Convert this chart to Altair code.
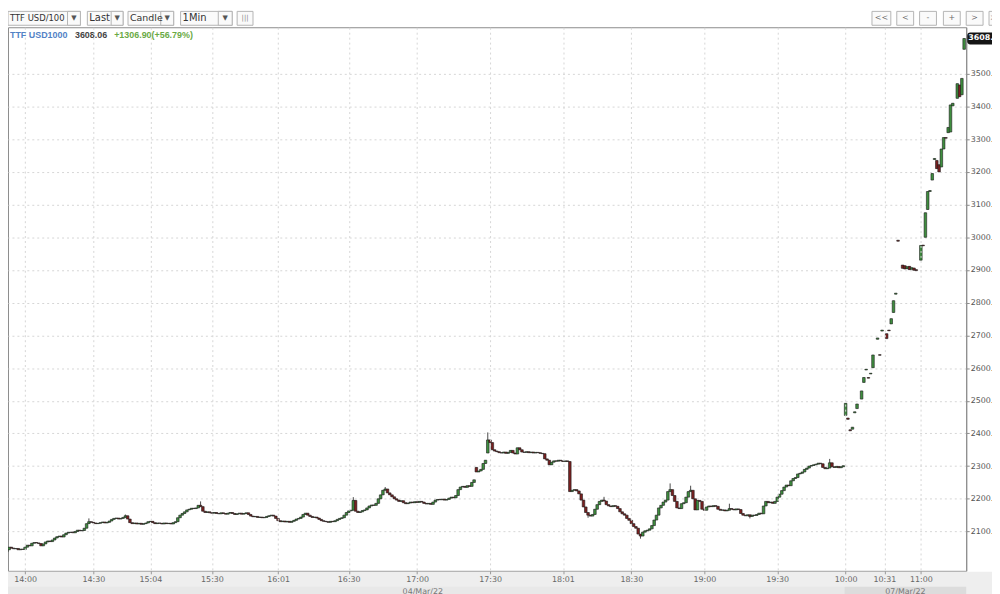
import altair as alt
import pandas as pd

# ---------------- data ----------------
# 04/Mar/22 session, 1-minute closes (candle slot 0..369); open = previous close
first_open = 2030
closes_mar4 = [
    2032, 2038, 2044, 2052, 2049, 2047, 2048, 2044, 2046, 2045,
    2052, 2058, 2056, 2064, 2066, 2065, 2063, 2056, 2062, 2068,
    2071, 2069, 2074, 2080, 2084, 2086, 2083, 2090, 2095, 2097,
    2098, 2096, 2100, 2104, 2102, 2103, 2110, 2124, 2130, 2128,
    2126, 2124, 2125, 2127, 2129, 2126, 2128, 2132, 2137, 2140,
    2141, 2138, 2140, 2143, 2148, 2138, 2127, 2124, 2126, 2123,
    2125, 2122, 2124, 2126, 2130, 2131, 2127, 2124, 2126, 2125,
    2123, 2126, 2124, 2125, 2123, 2127, 2130, 2142, 2150, 2155,
    2160, 2166, 2168, 2171, 2170, 2172, 2180, 2176, 2162, 2158,
    2160, 2157, 2156, 2158, 2155, 2154, 2157, 2155, 2153, 2156,
    2158, 2155, 2152, 2154, 2156, 2153, 2155, 2157, 2152, 2147,
    2145, 2146, 2143, 2144, 2142, 2143, 2146, 2148, 2150, 2147,
    2140, 2133, 2130, 2132, 2129, 2131, 2128, 2131, 2134, 2138,
    2140, 2144, 2152, 2156, 2150, 2146, 2143, 2144, 2141, 2137,
    2133, 2131, 2130, 2128, 2131, 2130, 2133, 2137, 2140, 2142,
    2150, 2158, 2163, 2165, 2195, 2162, 2158, 2160, 2164, 2166,
    2172, 2178, 2181, 2180, 2186, 2200, 2212, 2226, 2230, 2218,
    2212, 2206, 2200, 2196, 2192, 2194, 2188, 2185, 2187, 2190,
    2188, 2191, 2189, 2192, 2190, 2186, 2184, 2186, 2183, 2190,
    2196, 2198, 2197, 2199, 2196, 2198, 2202, 2205, 2203, 2210,
    2228, 2236, 2238, 2235, 2240, 2238, 2250, 2258, 2282, 2285,
    2290, 2308, 2318, 2380, 2372, 2350, 2346, 2344, 2341, 2340,
    2343, 2339, 2342, 2348, 2340, 2337, 2356, 2350, 2343, 2342,
    2344, 2341, 2343, 2340, 2342, 2341, 2339, 2338, 2322, 2318,
    2304, 2312, 2316, 2315, 2318, 2316, 2314, 2316, 2314, 2222,
    2226, 2228, 2224, 2215, 2196, 2175, 2158, 2150, 2147, 2152,
    2168, 2182, 2192, 2196, 2193, 2182, 2178, 2176, 2179, 2177,
    2170, 2160, 2154, 2150, 2140, 2134, 2124, 2115, 2110, 2092,
    2086, 2098, 2102, 2104, 2108, 2118, 2135, 2150, 2172, 2180,
    2190, 2196, 2222, 2228, 2210, 2192, 2172, 2170, 2185, 2188,
    2205, 2222, 2226, 2200, 2166, 2195, 2192, 2168, 2165, 2175,
    2178, 2176, 2179, 2177, 2168, 2165, 2166, 2163, 2165, 2170,
    2168, 2166, 2169, 2167, 2155, 2150, 2148, 2151, 2146, 2150,
    2149, 2152, 2156, 2154, 2178, 2192, 2188, 2190, 2186, 2192,
    2205, 2214, 2225, 2236, 2242, 2240, 2255, 2262, 2265, 2276,
    2278, 2282, 2290, 2294, 2300, 2302, 2304, 2306, 2309, 2307,
    2296, 2292, 2294, 2310, 2298, 2296, 2299, 2295, 2298, 2301.16,
]
gap_open_idx = [208, 213]
gap_open_val = [2296, 2340]
spike_high_idx = [38, 54, 87, 154, 168, 213, 264, 293, 302, 319, 363]
spike_high_val = [2140, 2152, 2192, 2205, 2236, 2403, 2206, 2247, 2240, 2185, 2322]
spike_low_idx = [257, 280, 328]
spike_low_val = [2142, 2078, 2140]

# 07/Mar/22 session (sparse, gapping candles); slot offsets after the session start
slots_mar7 = [
    0, 1, 2, 3, 4, 5, 7, 8, 9, 10,
    11, 12, 14, 15, 16, 18, 19, 20, 21, 22,
    23, 25, 26, 27, 28, 29, 30, 31, 33, 34,
    35, 36, 37, 38, 39, 40, 41, 42, 43, 44,
    45, 46, 47, 49, 50, 51, 52,
]
opens_mar7 = [
    2455, 2447, 2411, 2413, 2463, 2476, 2505, 2556, 2594, 2571,
    2582, 2601, 2688, 2641, 2713, 2705, 2716, 2735, 2770, 2826,
    2991, 2915, 2913, 2904, 2911, 2902, 2906, 2901, 2930, 2976,
    3000, 3085, 3140, 3175, 3238, 3235, 3222, 3215, 3270, 3305,
    3320, 3322, 3402, 3425, 3466, 3436, 3575,
]
closes_mar7 = [
    2492, 2443, 2408, 2419, 2466, 2490, 2530, 2571, 2596, 2569,
    2584, 2640, 2692, 2639, 2716, 2690, 2714, 2751, 2806, 2829,
    2988, 2905, 2903, 2910, 2901, 2907, 2899, 2898, 2975, 2974,
    3075, 3140, 3143, 3195, 3241, 3210, 3200, 3270, 3305, 3303,
    3336, 3405, 3410, 3470, 3430, 3486, 3608.06,
]

tick_idx = [10, 40, 65, 92, 121, 152, 182, 214, 246, 276, 308, 340, 370, 387, 403]
tick_lbl = ["14:00", "14:30", "15:04", "15:30", "16:01", "16:30", "17:00", "17:30",
            "18:01", "18:30", "19:00", "19:30", "10:00", "10:31", "11:00"]
day_names = ["04/Mar/22", "07/Mar/22"]
price_ticks = [2100, 2200, 2300, 2400, 2500, 2600, 2700, 2800, 2900, 3000,
               3100, 3200, 3300, 3400, 3500]
instrument = "TTF USD1000"
last_txt = "3608.06"
change_txt = "+1306.90(+56.79%)"

# ---------------- build table ----------------
rows = []
prev = first_open
for k, cl in enumerate(closes_mar4):
    op = gap_open_val[gap_open_idx.index(k)] if k in gap_open_idx else prev
    hi = max(op, cl)
    lo = min(op, cl)
    if k in spike_high_idx:
        hi = max(hi, spike_high_val[spike_high_idx.index(k)])
    if k in spike_low_idx:
        lo = min(lo, spike_low_val[spike_low_idx.index(k)])
    rows.append(dict(i=k, open=op, close=cl, high=hi, low=lo, day=day_names[0]))
    prev = cl
n4 = len(closes_mar4)
for s, op, cl in zip(slots_mar7, opens_mar7, closes_mar7):
    rows.append(dict(i=n4 + s, open=op, close=cl, high=max(op, cl), low=min(op, cl), day=day_names[1]))
df = pd.DataFrame(rows)

W, H = 966, 548
X0, X1 = 2.51, 422.9
Y0, Y1 = 1979.6, 3642.5

days = df.groupby("day")["i"].agg(["min", "max"]).reset_index()
days["start"] = (days["min"] - 0.5).clip(lower=X0)
days["end"] = days["max"] + 0.5
days.loc[days["day"] == day_names[1], "end"] = X1
days["mid"] = (days["min"] - 0.5 + days["end"]) / 2

last = pd.DataFrame({"p": [closes_mar7[-1]], "t": [last_txt]})
one = pd.DataFrame({"a": [0]})

# ---------------- styling ----------------
GREEN = "#3e8e3e"
RED = "#7a2020"
EDGE = "#1c1c1c"
AXF = "DejaVu Sans"

xs = alt.Scale(domain=[X0, X1], nice=False, zero=False, padding=0)
ys = alt.Scale(domain=[Y0, Y1], nice=False, zero=False)

lbl_expr = "[" + ",".join("'%s'" % s for s in tick_lbl) + "][indexof([" + \
    ",".join(str(v) for v in tick_idx) + "], datum.value)]"

x_axis = alt.Axis(values=tick_idx, labelExpr=lbl_expr, title=None, grid=True,
                  gridDash=[2, 3], gridColor="#d6d6d6", domain=False, tickSize=3,
                  tickColor="#999999", labelFont=AXF, labelFontSize=8, labelColor="#666666",
                  labelPadding=2, labelOverlap=False, labelFlush=False, zindex=1)
y_axis = alt.Axis(orient="right", values=price_ticks, format=".2f", title=None, grid=True,
                  gridDash=[2, 3], gridColor="#d6d6d6", domainColor="#8c8c8c", tickColor="#8c8c8c",
                  tickSize=3, labelFont=AXF, labelFontSize=8, labelColor="#555555",
                  labelPadding=1, labelOverlap=False, labelFlush=False)

def X(field="i:Q"):
    return alt.X(field, scale=xs, axis=x_axis)

def Y(field):
    return alt.Y(field, scale=ys, axis=y_axis)

# bottom band backgrounds (drawn first)
bottom_bg = alt.Chart(one).mark_rect(fill="#eeeeee").encode(
    x=alt.value(0), x2=alt.value(W + 30), y=alt.value(H + 1), y2=alt.value(H + 32))
day_band = alt.Chart(days).mark_rect(stroke=None).encode(
    x=alt.X("start:Q", scale=xs, axis=x_axis), x2="end:Q",
    y=alt.value(H + 16), y2=alt.value(H + 32),
    fill=alt.condition(alt.datum.day == day_names[1], alt.value("#dcdcdc"), alt.value("#e8e8e8")))
day_text = alt.Chart(days).mark_text(font=AXF, fontSize=8, color="#777777", baseline="middle").encode(
    x=alt.X("mid:Q", scale=xs, axis=x_axis), y=alt.value(H + 21), text="day:N")

wicks = alt.Chart(df).mark_rule(color=EDGE, strokeWidth=0.8, clip=True).encode(
    x=X(), y=Y("low:Q"), y2="high:Q")
bodies = alt.Chart(df).mark_bar(size=2.6, stroke=EDGE, strokeWidth=0.6, clip=True).encode(
    x=X(), y=Y("open:Q"), y2="close:Q",
    color=alt.condition("datum.close >= datum.open", alt.value(GREEN), alt.value(RED)))

# last-price tag on the right axis
tag = alt.Chart(last).mark_rect(color="#141414", cornerRadius=3, yOffset=-6, y2Offset=6).encode(
    x=alt.value(W + 1), x2=alt.value(W + 40), y=Y("p:Q"), y2="p:Q")
tag_txt = alt.Chart(last).mark_text(align="left", baseline="middle", color="white", font=AXF,
                                    fontSize=8, fontWeight="bold").encode(
    x=alt.value(W + 2), y=Y("p:Q"), text="t:N")

# header legend inside the plot
LF = "Liberation Sans"
leg1 = alt.Chart(one).mark_text(align="left", baseline="middle", font=LF, fontSize=9,
                                fontWeight="bold", color="#5282c6").encode(
    x=alt.value(2), y=alt.value(8), text=alt.value(instrument))
leg2 = alt.Chart(one).mark_text(align="left", baseline="middle", font=LF, fontSize=9,
                                fontWeight="bold", color="#444444").encode(
    x=alt.value(67.5), y=alt.value(8), text=alt.value(last_txt))
leg3 = alt.Chart(one).mark_text(align="left", baseline="middle", font=LF, fontSize=9,
                                fontWeight="bold", color="#6aaa44").encode(
    x=alt.value(107), y=alt.value(8), text=alt.value(change_txt))

# toolbar decoration above the plot
deco = []
def box(x0, x1, fill="#fafafa"):
    return alt.Chart(one).mark_rect(fill=fill, stroke="#b4b4b4", strokeWidth=1).encode(
        x=alt.value(x0), x2=alt.value(x1), y=alt.value(-16), y2=alt.value(-2))

def label(x, s, size=10, color="#333333", align="left"):
    return alt.Chart(one).mark_text(align=align, baseline="middle", font=AXF, fontSize=size,
                                    color=color).encode(
        x=alt.value(x), y=alt.value(-9), text=alt.value(s))

dropdowns = [("TTF USD/100", 0, 60, 73, 8.5), ("Last", 80, 104, 116, 10),
             ("Candle", 121, 154, 167, 9.5), ("1Min", 174, 212, 226, 10)]
for s, a, b, c, fs in dropdowns:
    deco += [box(a, c), box(b, c), label(a + 2, s, fs),
             label((b + c) / 2, "▼", 7, "#555555", "center")]
deco += [box(231, 247), label(239, "|||", 7, "#888888", "center")]
for s, a, b in [("<<", 871, 890), ("<", 896, 913), ("-", 919, 936), ("+", 943, 960),
                (">", 966, 983), (">>", 989, 1005)]:
    deco += [box(a, b), label((a + b) / 2, s, 8, "#666666", "center")]

chart = alt.layer(bottom_bg, day_band, day_text, wicks, bodies, tag, tag_txt,
                  leg1, leg2, leg3, *deco).properties(
    width=W, height=H, autosize="none",
    padding={"left": 0, "top": 17, "right": 26, "bottom": 27},
    background="white",
).configure_view(stroke="#8c8c8c", strokeWidth=1, fill="white")

chart.save("out.html", embed_options={"renderer": "svg", "actions": False})
